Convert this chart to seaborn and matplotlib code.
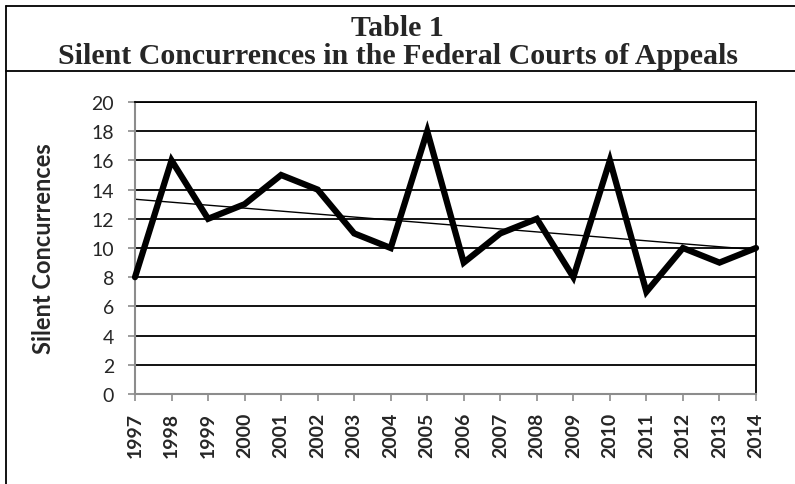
import numpy as np
import pandas as pd
import matplotlib
matplotlib.use("Agg")
import matplotlib.pyplot as plt
from matplotlib.lines import Line2D
import seaborn as sns

# data
years = [1997, 1998, 1999, 2000, 2001, 2002, 2003, 2004, 2005,
         2006, 2007, 2008, 2009, 2010, 2011, 2012, 2013, 2014]
concurrences = [8, 16, 12, 13, 15, 14, 11, 10, 18, 9, 11, 12, 8, 16, 7, 10, 9, 10]
y_ticks = list(range(0, 21, 2))

df = pd.DataFrame({"year": years, "count": concurrences})

sns.set_style("white")
plt.rcParams["font.family"] = ["Lato", "DejaVu Sans"]

fig = plt.figure(figsize=(7.95, 4.85), dpi=100)
ax = fig.add_axes([135 / 795, 1 - 395 / 485, (756 - 135) / 795, (395 - 103) / 485])

# horizontal gridlines
for t in y_ticks[1:]:
    ax.axhline(t, color="black", lw=1.3, zorder=1)

sns.lineplot(data=df, x="year", y="count", color="black", lw=4.5, ax=ax,
             zorder=3, clip_on=False, solid_joinstyle="miter")
# linear trend line
sns.regplot(data=df, x="year", y="count", scatter=False, ci=None, ax=ax,
            color="black", line_kws={"lw": 1.0, "zorder": 2})

ax.set_xlim(years[0], years[-1])
ax.set_ylim(0, 20)
ax.set_xticks(years)
ax.set_xticklabels([str(y) for y in years], rotation=90, fontweight="bold", fontsize=14)
ax.set_yticks(y_ticks)
ax.set_yticklabels([str(t) for t in y_ticks], fontsize=14)
ax.set_xlabel("")
ax.set_ylabel("Silent Concurrences", fontweight="bold", fontsize=17)
ax.yaxis.set_label_coords((55 - 135) / (756 - 135), 0.5)

ax.tick_params(axis="both", which="major", direction="out", length=5, width=1.2,
               color="#8c8c8c", left=True, bottom=True)
ax.tick_params(axis="y", pad=10)
ax.tick_params(axis="x", pad=8)
for side in ["left", "bottom"]:
    ax.spines[side].set_color("#8c8c8c")
    ax.spines[side].set_linewidth(1.5)
ax.spines["right"].set_color("black")
ax.spines["right"].set_linewidth(1.3)
ax.spines["top"].set_color("black")
ax.spines["top"].set_linewidth(1.3)

# title block and frame
fig.text(0.5, 1 - 28 / 485, "Table 1", ha="center", va="center",
         fontsize=21.5, fontweight="bold", family="Liberation Serif")
fig.text(0.5, 1 - 57 / 485, "Silent Concurrences in the Federal Courts of Appeals",
         ha="center", va="center", fontsize=21.5, fontweight="bold", family="Liberation Serif")
fig.add_artist(Line2D([6 / 795, 1], [1 - 7 / 485, 1 - 7 / 485], color="black", lw=1.3))
fig.add_artist(Line2D([6 / 795, 6 / 795], [0, 1 - 7 / 485], color="black", lw=1.3))
fig.add_artist(Line2D([6 / 795, 1], [1 - 72 / 485, 1 - 72 / 485], color="black", lw=1.3))

fig.savefig("out.png", dpi=100)
